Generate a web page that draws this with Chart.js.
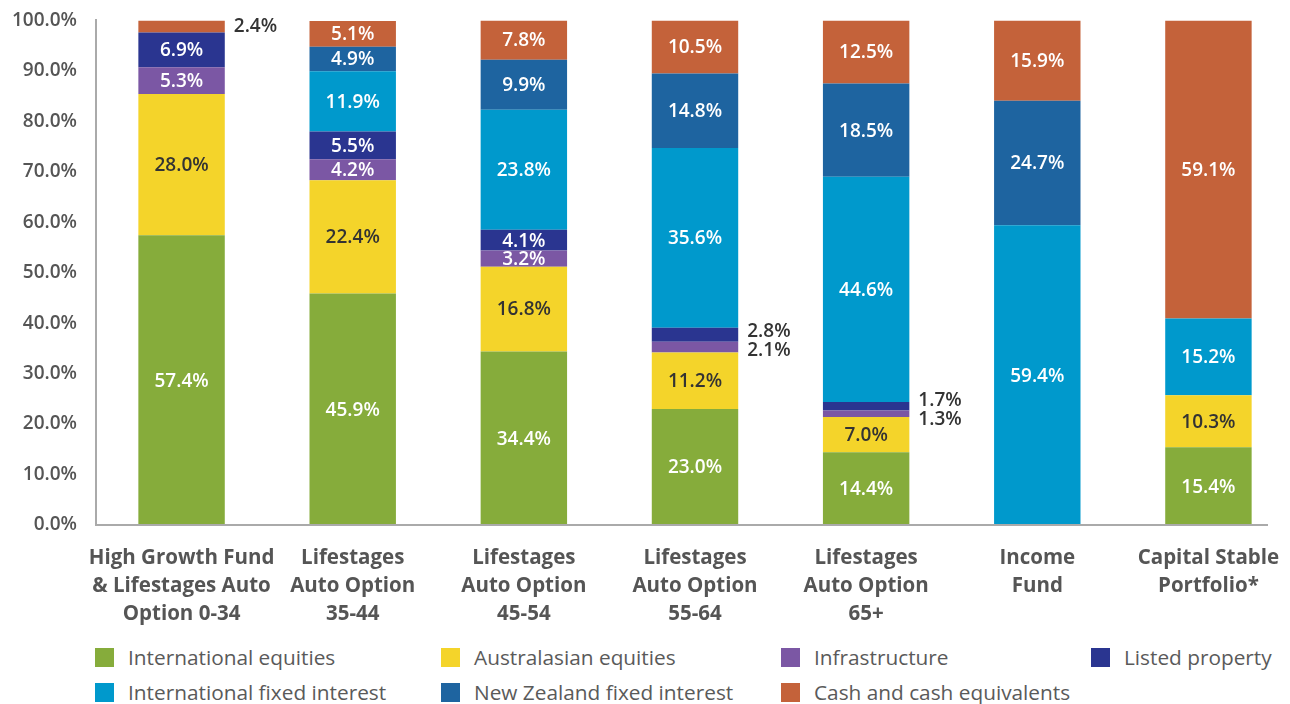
<!DOCTYPE html>
<html>
<head>
<meta charset="utf-8">
<script src="https://cdn.jsdelivr.net/npm/chart.js@4.4.1/dist/chart.umd.min.js"></script>
<style>
  html, body { margin: 0; padding: 0; background: #fff; }
  body { width: 1290px; height: 704px; overflow: hidden; position: relative; font-family: 'Open Sans', sans-serif; }
  #wrap { position: absolute; left: 0; top: -10px; width: 1294px; height: 640px; }
  #legend { position: absolute; left: 0; top: 640px; width: 1290px; height: 64px; }
  .item { position: absolute; display: flex; align-items: center; font-size: 20.8px; color: #5a5a5a; white-space: nowrap; }
  .item span.box { width: 19px; height: 19px; margin-right: 14px; display: inline-block; }
</style>
</head>
<body>
<div id="wrap"><canvas id="fundChart"></canvas></div>
<div id="legend"></div>
<script>
// categories
const categories = [
  ["High Growth Fund", "& Lifestages Auto", "Option 0-34"],
  ["Lifestages", "Auto Option", "35-44"],
  ["Lifestages", "Auto Option", "45-54"],
  ["Lifestages", "Auto Option", "55-64"],
  ["Lifestages", "Auto Option", "65+"],
  ["Income", "Fund"],
  ["Capital Stable", "Portfolio*"]
];

// series values (%)
const intlEquities   = [57.4, 45.9, 34.4, 23.0, 14.4, 0, 15.4];
const ausEquities    = [28.0, 22.4, 16.8, 11.2, 7.0, 0, 10.3];
const infrastructure = [5.3, 4.2, 3.2, 2.1, 1.3, 0, 0];
const listedProperty = [6.9, 5.5, 4.1, 2.8, 1.7, 0, 0];
const intlFixed      = [0, 11.9, 23.8, 35.6, 44.6, 59.4, 15.2];
const nzFixed        = [0, 4.9, 9.9, 14.8, 18.5, 24.7, 0];
const cashEquiv      = [2.4, 5.1, 7.8, 10.5, 12.5, 15.9, 59.1];

// y tick labels
const yTicks = [0, 10, 20, 30, 40, 50, 60, 70, 80, 90, 100];

const series = [
  { label: 'International equities', data: intlEquities, color: '#86ac3b', text: '#fff' },
  { label: 'Australasian equities', data: ausEquities, color: '#f4d42a', text: '#333' },
  { label: 'Infrastructure', data: infrastructure, color: '#7b57a4', text: '#fff' },
  { label: 'Listed property', data: listedProperty, color: '#2a3590', text: '#fff' },
  { label: 'International fixed interest', data: intlFixed, color: '#0099cc', text: '#fff' },
  { label: 'New Zealand fixed interest', data: nzFixed, color: '#1e64a0', text: '#fff' },
  { label: 'Cash and cash equivalents', data: cashEquiv, color: '#c4623a', text: '#fff' }
];

// legend, row-wise in a 4 column grid
const colX = [95, 441, 781, 1091];
const rowY = [17, 52];
const legendEl = document.getElementById('legend');
series.forEach((s, i) => {
  const div = document.createElement('div');
  div.className = 'item';
  div.style.left = colX[i % 4] + 'px';
  div.style.top = (rowY[Math.floor(i / 4)] - 14) + 'px';
  div.innerHTML = '<span class="box" style="background:' + s.color + '"></span>' + s.label;
  legendEl.appendChild(div);
});

// value labels inside / beside the segments
const segmentLabels = {
  id: 'segmentLabels',
  afterDatasetsDraw(chart) {
    const ctx = chart.ctx;
    ctx.save();
    ctx.font = '600 19px "Open Sans"';
    ctx.textBaseline = 'middle';
    const outside = {};
    chart.data.datasets.forEach((ds, di) => {
      const meta = chart.getDatasetMeta(di);
      meta.data.forEach((el, i) => {
        const v = ds.data[i];
        if (!v) return;
        const cy = (el.y + el.base) / 2;
        if (v >= 3) {
          ctx.fillStyle = series[di].text;
          ctx.textAlign = 'center';
          ctx.fillText(v.toFixed(1) + '%', el.x, cy + 1);
        } else {
          (outside[i] = outside[i] || []).push({ v, y: cy, x: el.x + el.width / 2 + 9 });
        }
      });
    });
    Object.values(outside).forEach(list => {
      list.sort((a, b) => a.y - b.y);
      const gap = 19;
      if (list.length > 1) {
        const mid = list.reduce((s, o) => s + o.y, 0) / list.length;
        list.forEach((o, k) => { o.y = mid + (k - (list.length - 1) / 2) * gap; });
      }
      list.forEach(o => {
        ctx.fillStyle = '#333';
        ctx.textAlign = 'left';
        ctx.fillText(o.v.toFixed(1) + '%', o.x, o.y);
      });
    });
    ctx.restore();
  }
};

// bottom axis line (stops short of the right edge)
const baseLine = {
  id: 'baseLine',
  afterDatasetsDraw(chart) {
    const { ctx, chartArea, scales } = chart;
    const y = scales.y.getPixelForValue(0);
    ctx.save();
    ctx.strokeStyle = '#aaaaaa';
    ctx.lineWidth = 2;
    ctx.beginPath();
    ctx.moveTo(chartArea.left - 1, y);
    ctx.lineTo(chartArea.right - 26, y);
    ctx.stroke();
    ctx.restore();
  }
};

new Chart(document.getElementById('fundChart'), {
  type: 'bar',
  data: {
    labels: categories,
    datasets: series.map(s => ({
      label: s.label,
      data: s.data,
      backgroundColor: s.color,
      borderWidth: 0,
      barPercentage: 0.505,
      categoryPercentage: 1
    }))
  },
  options: {
    responsive: true,
    maintainAspectRatio: false,
    animation: false,
    layout: { padding: { top: 10, right: 0, left: 0, bottom: 0 } },
    plugins: {
      legend: { display: false },
      tooltip: { enabled: false }
    },
    scales: {
      x: {
        stacked: true,
        grid: { display: false, drawTicks: false },
        border: { display: false },
        ticks: {
          color: '#555',
          font: { family: 'Open Sans', size: 20.5, weight: '700', lineHeight: 1.37 },
          padding: 19,
          maxRotation: 0,
          autoSkip: false
        },
        afterFit: s => { s.height = 105; s.paddingRight = 0; s.paddingLeft = 0; }
      },
      y: {
        stacked: true,
        min: 0,
        max: 100,
        afterBuildTicks: s => { s.ticks = yTicks.map(v => ({ value: v })); },
        grid: { display: false, drawTicks: false },
        border: { display: true, color: '#aaaaaa', width: 2 },
        ticks: {
          color: '#555',
          font: { family: 'Open Sans', size: 19, weight: '600' },
          padding: 19,
          callback: v => v.toFixed(1) + '%'
        },
        afterFit: s => { s.width = 96; }
      }
    }
  },
  plugins: [segmentLabels, baseLine]
});
</script>
</body>
</html>
